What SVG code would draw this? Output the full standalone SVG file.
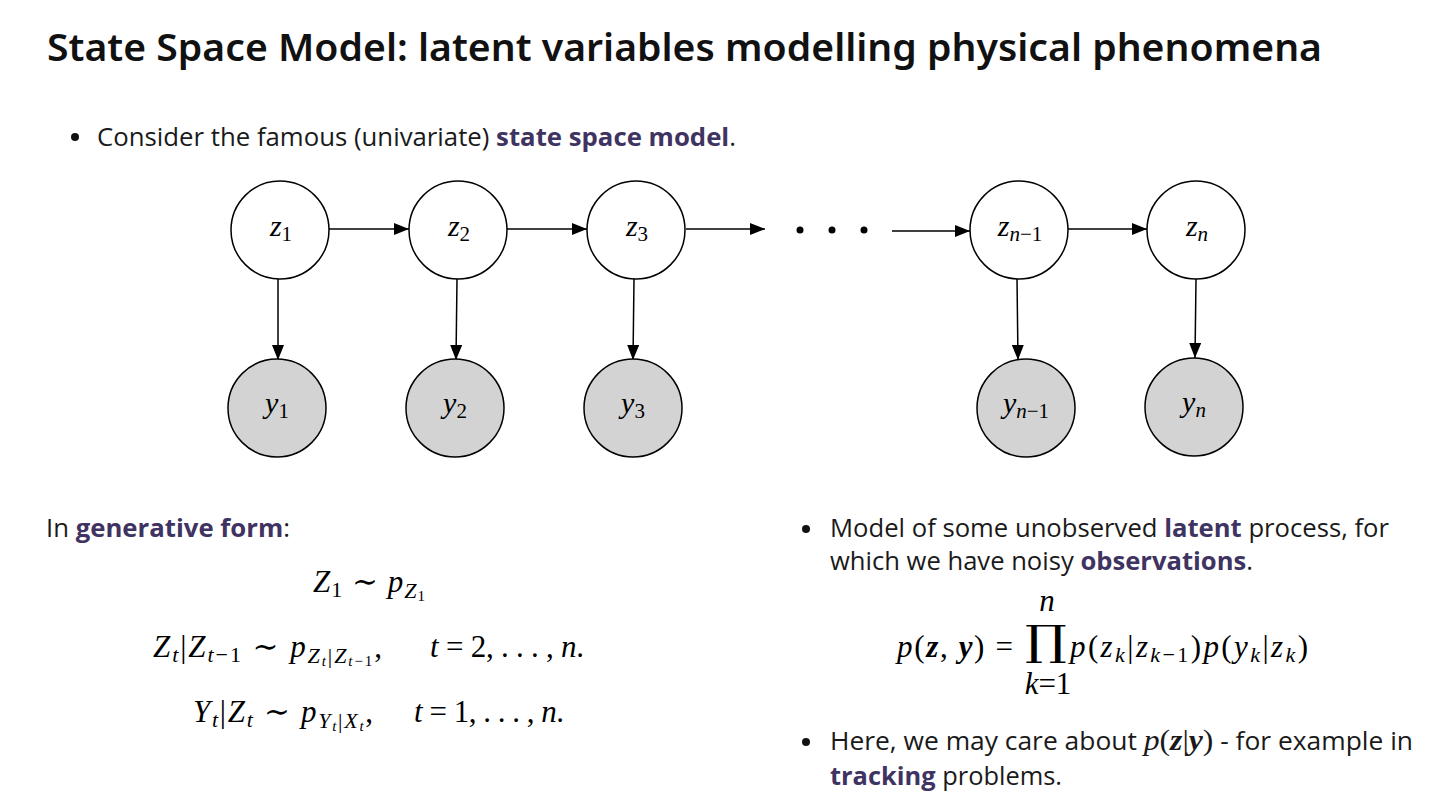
<svg xmlns="http://www.w3.org/2000/svg" width="1441" height="812" viewBox="0 0 1441 812">
<style>
.title{font-family:"Noto Sans","Open Sans",sans-serif;font-weight:600;font-size:37px;fill:#111;}
.body{font-family:"Open Sans","Noto Sans",sans-serif;font-size:25px;fill:#1a1a1a;}
.hl{font-weight:bold;fill:#3f3461;}
.math{font-family:"Liberation Serif","DejaVu Serif",serif;font-size:31px;fill:#000;}
.lab{font-family:"Liberation Serif","DejaVu Serif",serif;font-size:30px;fill:#000;}
.it{font-style:italic;}
.bi{font-style:italic;font-weight:bold;}
.node circle{stroke:#000;stroke-width:1.5;}
.lat circle{fill:#fff;}
.obs circle{fill:#d3d3d3;}
.edge{stroke:#000;stroke-width:1.5;fill:none;marker-end:url(#arr);}
</style>
<defs>
<marker id="arr" markerUnits="userSpaceOnUse" markerWidth="16" markerHeight="12" refX="15" refY="6" orient="auto">
<path d="M0,0 L15,6 L0,12 Z" fill="#000"/>
</marker>
</defs>
<rect width="1441" height="812" fill="#fff"/>
<text class="title" x="47" y="61" textLength="1275" lengthAdjust="spacingAndGlyphs">State Space Model: latent variables modelling physical phenomena</text>

<circle cx="75" cy="137" r="4" fill="#111"/>
<text class="body" x="97" y="146" textLength="639" lengthAdjust="spacingAndGlyphs">Consider the famous (univariate) <tspan class="hl">state space model</tspan>.</text>

<g id="connectors">
<line class="edge" x1="329" y1="229" x2="409" y2="229"/>
<line class="edge" x1="507" y1="229" x2="587" y2="229"/>
<line class="edge" x1="686" y1="229" x2="765" y2="229"/>
<line class="edge" x1="892" y1="231" x2="970" y2="231"/>
<line class="edge" x1="1068" y1="229" x2="1147" y2="229"/>
<line class="edge" x1="278" y1="279" x2="278" y2="360"/>
<line class="edge" x1="457" y1="279" x2="456" y2="360"/>
<line class="edge" x1="634" y1="279" x2="633" y2="360"/>
<line class="edge" x1="1017" y1="279" x2="1018" y2="360"/>
<line class="edge" x1="1196" y1="279" x2="1195" y2="358"/>
<circle cx="800" cy="230" r="3.5" fill="#000"/>
<circle cx="832" cy="230" r="3.5" fill="#000"/>
<circle cx="864" cy="230" r="3.5" fill="#000"/>
</g>

<g id="z1" class="node lat"><circle cx="280" cy="230" r="49"/><text class="lab" x="281" y="236" text-anchor="middle"><tspan class="it">z</tspan><tspan font-size="21" dy="5">1</tspan></text></g>
<g id="z2" class="node lat"><circle cx="458" cy="230" r="49"/><text class="lab" x="459" y="236" text-anchor="middle"><tspan class="it">z</tspan><tspan font-size="21" dy="5">2</tspan></text></g>
<g id="z3" class="node lat"><circle cx="636" cy="230" r="49"/><text class="lab" x="637" y="236" text-anchor="middle"><tspan class="it">z</tspan><tspan font-size="21" dy="5">3</tspan></text></g>
<g id="zn1" class="node lat"><circle cx="1019" cy="230" r="49"/><text class="lab" x="1020" y="236" text-anchor="middle"><tspan class="it">z</tspan><tspan font-size="21" dy="5"><tspan class="it">n</tspan>−1</tspan></text></g>
<g id="zn" class="node lat"><circle cx="1196" cy="230" r="49"/><text class="lab" x="1197" y="236" text-anchor="middle"><tspan class="it">z</tspan><tspan font-size="21" dy="5" class="it">n</tspan></text></g>

<g id="y1" class="node obs"><circle cx="277" cy="408" r="49"/><text class="lab" x="277" y="413" text-anchor="middle"><tspan class="it">y</tspan><tspan font-size="21" dy="5">1</tspan></text></g>
<g id="y2" class="node obs"><circle cx="455" cy="408" r="49"/><text class="lab" x="455" y="413" text-anchor="middle"><tspan class="it">y</tspan><tspan font-size="21" dy="5">2</tspan></text></g>
<g id="y3" class="node obs"><circle cx="633" cy="408" r="49"/><text class="lab" x="633" y="413" text-anchor="middle"><tspan class="it">y</tspan><tspan font-size="21" dy="5">3</tspan></text></g>
<g id="yn1" class="node obs"><circle cx="1026" cy="408" r="49"/><text class="lab" x="1026" y="413" text-anchor="middle"><tspan class="it">y</tspan><tspan font-size="21" dy="5"><tspan class="it">n</tspan>−1</tspan></text></g>
<g id="yn" class="node obs"><circle cx="1194" cy="407" r="49"/><text class="lab" x="1194" y="412" text-anchor="middle"><tspan class="it">y</tspan><tspan font-size="21" dy="5" class="it">n</tspan></text></g>

<text class="body" x="46" y="537" textLength="244" lengthAdjust="spacingAndGlyphs">In <tspan class="hl">generative form</tspan>:</text>

<text class="math" x="313" y="592" textLength="112" lengthAdjust="spacing"><tspan class="it">Z</tspan><tspan font-size="22" dy="5">1</tspan><tspan dy="-5"> ∼ </tspan><tspan class="it">p</tspan><tspan class="it" font-size="22" dy="6">Z</tspan><tspan font-size="15" dy="3">1</tspan></text>

<text class="math" x="153" y="657" textLength="229" lengthAdjust="spacing"><tspan class="it">Z</tspan><tspan class="it" font-size="22" dy="5">t</tspan><tspan dy="-5">|</tspan><tspan class="it">Z</tspan><tspan font-size="22" dy="5"><tspan class="it">t</tspan>−1</tspan><tspan dy="-5"> ∼ </tspan><tspan class="it">p</tspan><tspan class="it" font-size="22" dy="6">Z</tspan><tspan class="it" font-size="15" dy="3">t</tspan><tspan font-size="22" dy="-3">|</tspan><tspan class="it" font-size="22">Z</tspan><tspan font-size="15" dy="3"><tspan class="it">t</tspan>−1</tspan><tspan dy="-9">,</tspan></text>
<text class="math" x="430" y="657" textLength="154" lengthAdjust="spacing"><tspan class="it">t</tspan> = 2, . . . , <tspan class="it">n</tspan>.</text>

<text class="math" x="193" y="722" textLength="180" lengthAdjust="spacing"><tspan class="it">Y</tspan><tspan class="it" font-size="22" dy="5">t</tspan><tspan dy="-5">|</tspan><tspan class="it">Z</tspan><tspan class="it" font-size="22" dy="5">t</tspan><tspan dy="-5"> ∼ </tspan><tspan class="it">p</tspan><tspan class="it" font-size="22" dy="6">Y</tspan><tspan class="it" font-size="15" dy="3">t</tspan><tspan font-size="22" dy="-3">|</tspan><tspan class="it" font-size="22">X</tspan><tspan class="it" font-size="15" dy="3">t</tspan><tspan dy="-9">,</tspan></text>
<text class="math" x="414" y="722" textLength="150" lengthAdjust="spacing"><tspan class="it">t</tspan> = 1, . . . , <tspan class="it">n</tspan>.</text>

<circle cx="806" cy="529" r="4" fill="#111"/>
<text class="body" x="830" y="537" textLength="559" lengthAdjust="spacingAndGlyphs">Model of some unobserved <tspan class="hl">latent</tspan> process, for</text>
<text class="body" x="830" y="570" textLength="423" lengthAdjust="spacingAndGlyphs">which we have noisy <tspan class="hl">observations</tspan>.</text>

<text class="math" x="897" y="657" textLength="116" lengthAdjust="spacing"><tspan class="it">p</tspan>(<tspan class="bi">z</tspan>, <tspan class="bi">y</tspan>) =</text>
<text x="0" y="655" text-anchor="middle" font-family="DejaVu Serif, serif" font-size="42" fill="#000" transform="translate(1046,0) scale(1.25,1)">∏</text>
<text class="math it" x="1047" y="611" text-anchor="middle" font-size="22">n</text>
<text class="math" x="1048" y="694" text-anchor="middle" font-size="22"><tspan class="it">k</tspan>=1</text>
<text class="math" x="1070" y="657" textLength="238" lengthAdjust="spacing"><tspan class="it">p</tspan>(<tspan class="it">z</tspan><tspan class="it" font-size="22" dy="5">k</tspan><tspan dy="-5">|</tspan><tspan class="it">z</tspan><tspan font-size="22" dy="5"><tspan class="it">k</tspan>−1</tspan><tspan dy="-5">)</tspan><tspan class="it">p</tspan>(<tspan class="it">y</tspan><tspan class="it" font-size="22" dy="5">k</tspan><tspan dy="-5">|</tspan><tspan class="it">z</tspan><tspan class="it" font-size="22" dy="5">k</tspan><tspan dy="-5">)</tspan></text>

<circle cx="806" cy="742" r="4" fill="#111"/>
<text class="body" x="830" y="750" textLength="583" lengthAdjust="spacingAndGlyphs">Here, we may care about <tspan font-family="Liberation Serif, serif" font-size="30"><tspan class="it">p</tspan>(<tspan class="bi">z</tspan>|<tspan class="bi">y</tspan>)</tspan> - for example in</text>
<text class="body" x="830" y="785" textLength="232" lengthAdjust="spacingAndGlyphs"><tspan class="hl">tracking</tspan> problems.</text>
</svg>
